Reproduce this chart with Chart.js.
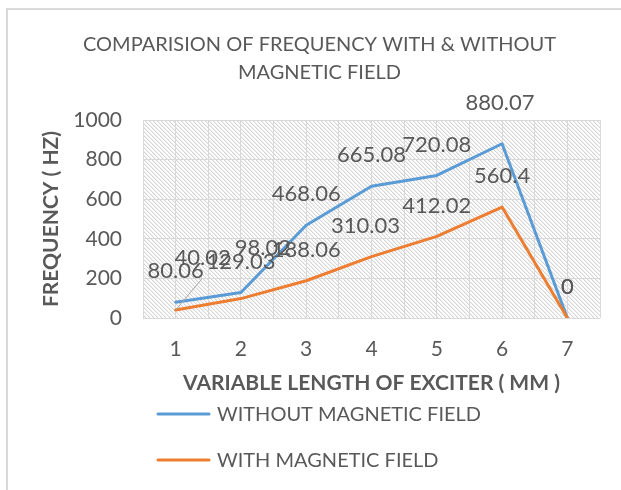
<!DOCTYPE html>
<html>
<head>
<meta charset="utf-8">
<script src="https://cdn.jsdelivr.net/npm/chart.js@4.4.1/dist/chart.umd.min.js"></script>
<style>
  html, body { margin: 0; padding: 0; background: #fff; }
  #wrap { position: relative; width: 621px; height: 490px; overflow: hidden; }
  #frame { position: absolute; left: 6px; top: 8px; width: 700px; height: 600px; border: 2px solid #d9d9d9; }
  #chart { position: absolute; left: 0; top: 0; }
</style>
</head>
<body>
<div id="wrap">
  <div id="frame"></div>
  <canvas id="chart" width="621" height="490"></canvas>
</div>
<script>
/* Freqüència amb i sense camp magnètic */

const categories   = ['1', '2', '3', '4', '5', '6', '7'];
const withoutField = [80.06, 129.03, 468.06, 665.08, 720.08, 880.07, 0];
const withField    = [40.02, 98.02, 188.06, 310.03, 412.02, 560.4, 0];
const yTicks       = [0, 200, 400, 600, 800, 1000];

const seriesNames  = ['WITHOUT MAGNETIC FIELD', 'WITH MAGNETIC FIELD'];
const titleLines   = ['COMPARISION OF FREQUENCY WITH & WITHOUT', 'MAGNETIC FIELD'];

// desplaçaments manuals d'etiquetes (com a l'Excel original)
const labelShift = [
  [[0, 0], [0, 0], [0, 0], [0, 0], [0, 0], [-2, -10], [0, 0]],
  [[27, -21], [22, -20], [0, 0], [-6, 0], [0, 0], [0, 0], [0, 0]],
];
const leaderLines = [[], [0]];

const GREY = '#595959';
const FONT = 'Lato';

function hatchPattern(ctx) {
  const c = document.createElement('canvas');
  c.width = 8; c.height = 8;
  const g = c.getContext('2d');
  const img = g.createImageData(8, 8);
  for (let y = 0; y < 8; y++) {
    for (let x = 0; x < 8; x++) {
      const d = ((x - y) % 4 + 4) % 4;
      const v = d === 0 ? 214 : d === 1 ? 238 : 255;
      const i = (y * 8 + x) * 4;
      img.data[i] = v; img.data[i + 1] = v; img.data[i + 2] = v; img.data[i + 3] = 255;
    }
  }
  g.putImageData(img, 0, 0);
  return ctx.createPattern(c, 'repeat');
}

const fonsRatllat = {
  id: 'fons-ratllat',
  beforeDraw(chart) {
    const { ctx, chartArea: a } = chart;
    ctx.save();
    ctx.fillStyle = hatchPattern(ctx);
    ctx.fillRect(a.left, a.top, a.right - a.left, a.bottom - a.top);
    ctx.restore();
  }
};

const etiquetes = {
  id: 'etiquetes',
  afterDatasetsDraw(chart) {
    const { ctx } = chart;
    ctx.save();
    ctx.font = `22px ${FONT}`;
    ctx.textAlign = 'center';
    ctx.textBaseline = 'middle';
    chart.data.datasets.forEach((ds, di) => {
      const meta = chart.getDatasetMeta(di);
      meta.data.forEach((pt, i) => {
        const [dx, dy] = labelShift[di][i];
        const lx = pt.x + dx;
        const ly = pt.y - 31 + dy;
        if (leaderLines[di].includes(i)) {
          ctx.strokeStyle = '#a6a6a6';
          ctx.lineWidth = 1;
          ctx.beginPath();
          ctx.moveTo(pt.x, pt.y);
          ctx.lineTo(lx - 1, ly + 21);
          ctx.stroke();
        }
        ctx.fillStyle = GREY;
        ctx.fillText(String(ds.data[i]), lx, ly);
      });
    });
    ctx.restore();
  }
};

const llegenda = {
  id: 'llegenda',
  afterDraw(chart) {
    const { ctx } = chart;
    ctx.save();
    ctx.font = `20px ${FONT}`;
    ctx.textBaseline = 'middle';
    chart.data.datasets.forEach((ds, i) => {
      const y = 414 + i * 46;
      ctx.strokeStyle = ds.borderColor;
      ctx.lineWidth = 3;
      ctx.lineCap = 'round';
      ctx.beginPath();
      ctx.moveTo(158, y);
      ctx.lineTo(209, y);
      ctx.stroke();
      ctx.fillStyle = GREY;
      ctx.fillText(ds.label, 217, y + 1);
    });
    ctx.restore();
  }
};

new Chart(document.getElementById('chart'), {
  type: 'line',
  data: {
    labels: categories,
    datasets: [
      {
        label: seriesNames[0],
        data: withoutField,
        borderColor: '#5b9bd5',
        borderWidth: 3,
        pointRadius: 0,
        tension: 0,
        borderCapStyle: 'round',
        borderJoinStyle: 'round',
        order: 1,
      },
      {
        label: seriesNames[1],
        data: withField,
        borderColor: '#ed7d31',
        borderWidth: 3,
        pointRadius: 0,
        tension: 0,
        borderCapStyle: 'round',
        borderJoinStyle: 'round',
        order: 0,
      }
    ]
  },
  options: {
    responsive: false,
    animation: false,
    layout: { padding: { left: 39, right: 21, top: 0, bottom: 94 } },
    plugins: {
      legend: { display: false },
      tooltip: { enabled: false },
      title: {
        display: true,
        text: titleLines,
        color: GREY,
        font: { family: FONT, size: 20, weight: 'normal', lineHeight: 1.4 },
        padding: { top: 31, bottom: 33 },
      },
    },
    scales: {
      x: {
        type: 'category',
        offset: true,
        grid: { offset: false, color: '#d9d9d9', drawTicks: false },
        border: { display: false },
        ticks: { color: GREY, font: { family: FONT, size: 21 }, padding: 19 },
        title: {
          display: true,
          text: 'VARIABLE LENGTH OF EXCITER ( MM )',
          color: GREY,
          font: { family: FONT, size: 21, weight: 'bold' },
          padding: 0,
        },
        afterFit(s) { s.height = 78; },
      },
      x2: {
        type: 'category',
        labels: categories,
        position: 'bottom',
        offset: true,
        grid: { offset: true, color: '#d9d9d9', drawTicks: false },
        border: { display: false },
        ticks: { display: false },
        afterFit(s) { s.height = 0; },
      },
      y: {
        min: 0,
        max: 1000,
        afterBuildTicks(s) { s.ticks = yTicks.map(v => ({ value: v })); },
        grid: { color: '#d9d9d9', drawTicks: false },
        border: { display: false },
        ticks: {
          color: GREY,
          font: { family: FONT, size: 21 },
          padding: 21,
          callback: v => String(v),
        },
        title: {
          display: true,
          text: 'FREQUENCY ( HZ)',
          color: GREY,
          font: { family: FONT, size: 21, weight: 'bold' },
          padding: 0,
        },
        afterFit(s) { s.width = 104; },
      }
    }
  },
  plugins: [fonsRatllat, etiquetes, llegenda]
});
</script>
</body>
</html>
